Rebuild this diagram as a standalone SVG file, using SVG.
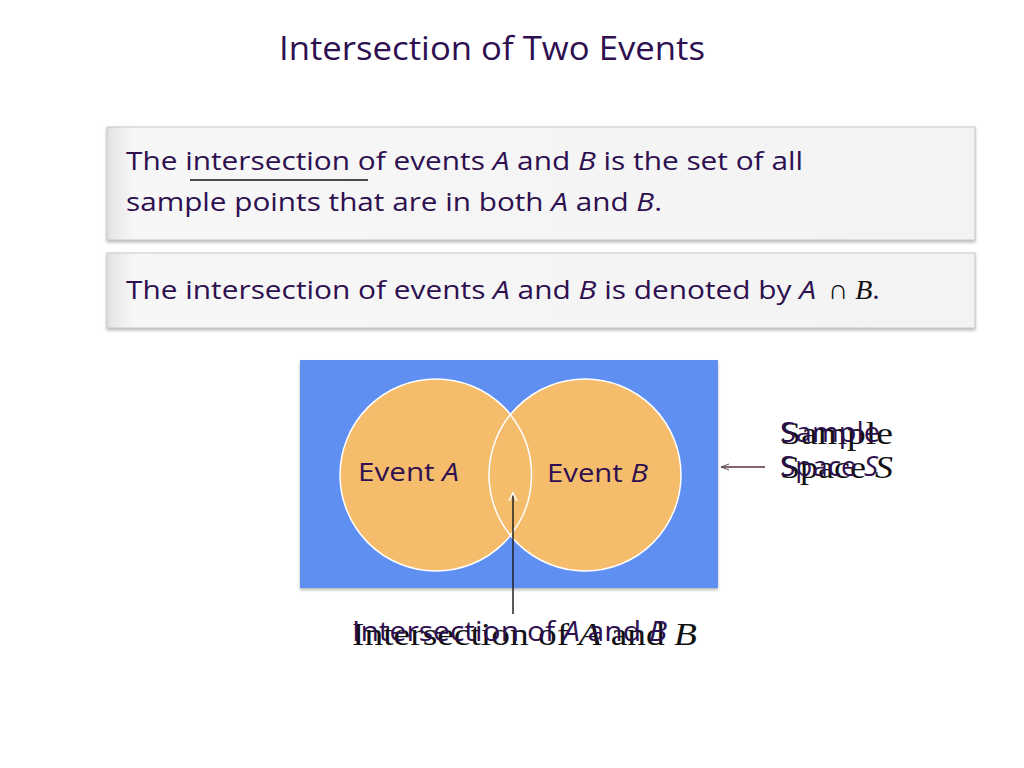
<svg xmlns="http://www.w3.org/2000/svg" width="1024" height="768" viewBox="0 0 1024 768">
<style>
.s{font-family:"Open Sans","Liberation Sans",sans-serif;fill:#2e1050}
.r{font-family:"Liberation Serif",serif;fill:#111}
.box{fill:url(#g);stroke:#c8c8c8;stroke-width:1}
</style>
<defs>
<linearGradient id="g" x1="0" x2="1" y1="0" y2="0"><stop offset="0" stop-color="#e2e2e2"/><stop offset="0.03" stop-color="#f7f7f7"/><stop offset="1" stop-color="#f3f3f3"/></linearGradient>
<filter id="sh" x="-5%" y="-10%" width="110%" height="130%"><feDropShadow dx="0" dy="2" stdDeviation="1.5" flood-color="#888" flood-opacity="0.6"/></filter>
<marker id="ah" markerWidth="10" markerHeight="10" refX="8" refY="5" orient="auto" markerUnits="userSpaceOnUse"><path d="M0,1 L8,5 L0,9" fill="none" stroke="#fff" stroke-width="1.5"/></marker>
<marker id="ah2" markerWidth="10" markerHeight="10" refX="8" refY="5" orient="auto" markerUnits="userSpaceOnUse"><path d="M0,2 L8,5 L0,8" fill="none" stroke="#555" stroke-width="1"/></marker>
</defs>
<rect width="1024" height="768" fill="#fff"/>
<text class="s" x="279" y="60" font-size="32" textLength="426" lengthAdjust="spacingAndGlyphs">Intersection of Two Events</text>
<g id="def1">
<rect class="box" x="107" y="127" width="868" height="113" filter="url(#sh)"/>
<text class="s" x="126" y="170" font-size="26" textLength="677" lengthAdjust="spacingAndGlyphs">The intersection of events <tspan font-style="italic">A</tspan> and <tspan font-style="italic">B</tspan> is the set of all</text>
<text class="s" x="126" y="211" font-size="26" textLength="536" lengthAdjust="spacingAndGlyphs">sample points that are in both <tspan font-style="italic">A</tspan> and <tspan font-style="italic">B</tspan>.</text>
<line x1="190" y1="180" x2="368" y2="180" stroke="#111" stroke-width="1.5"/>
</g>
<g id="def2">
<rect class="box" x="107" y="253" width="868" height="75" filter="url(#sh)"/>
<text class="s" x="126" y="299" font-size="26" textLength="690" lengthAdjust="spacingAndGlyphs">The intersection of events <tspan font-style="italic">A</tspan> and <tspan font-style="italic">B</tspan> is denoted by <tspan font-style="italic">A</tspan></text>
<text class="r" x="828" y="299" font-size="28">∩ <tspan font-style="italic">B</tspan><tspan class="s">.</tspan></text>
</g>
<g id="space">
<rect x="300" y="360" width="418" height="228" fill="#5f8ff0" filter="url(#sh)"/>
</g>
<g id="eventA"><circle cx="436" cy="475" r="96" fill="#f5bc6c" stroke="#fff" stroke-width="1.5"/></g>
<g id="eventB"><circle cx="585" cy="475" r="96" fill="#f5bc6c" stroke="#fff" stroke-width="1.5"/>
<path d="M510.5,415 A96,96 0 0 1 510.5,535" fill="none" stroke="#fff" stroke-width="1.5"/></g>
<text class="s" x="358" y="481" font-size="26" textLength="101" lengthAdjust="spacingAndGlyphs">Event <tspan font-style="italic">A</tspan></text>
<text class="s" x="547" y="482" font-size="26" textLength="101" lengthAdjust="spacingAndGlyphs">Event <tspan font-style="italic">B</tspan></text>
<g id="connectors">
<line x1="513" y1="614" x2="513" y2="493" stroke="#222" stroke-width="1.5" marker-end="url(#ah)"/>
<line x1="765" y1="467" x2="721" y2="467" stroke="#5a3040" stroke-width="1.5" marker-end="url(#ah2)"/>
</g>
<g id="labelS">
<text class="r" x="780" y="444" font-size="32" textLength="113" lengthAdjust="spacingAndGlyphs">Sample</text>
<text class="r" x="780" y="478" font-size="32" textLength="113" lengthAdjust="spacingAndGlyphs">Space <tspan font-style="italic">S</tspan></text>
<text class="s" x="780" y="442" font-size="28" textLength="100" lengthAdjust="spacingAndGlyphs">Sample</text>
<text class="s" x="780" y="476" font-size="28" textLength="98" lengthAdjust="spacingAndGlyphs">Space <tspan font-style="italic">S</tspan></text>
</g>
<g id="labelI">
<text class="r" x="352" y="645" font-size="32" textLength="345" lengthAdjust="spacingAndGlyphs">Intersection of <tspan font-style="italic">A</tspan> and <tspan font-style="italic">B</tspan></text>
<text class="s" x="352" y="641" font-size="28" textLength="315" lengthAdjust="spacingAndGlyphs">Intersection of <tspan font-style="italic">A</tspan> and <tspan font-style="italic">B</tspan></text>
</g>
</svg>
